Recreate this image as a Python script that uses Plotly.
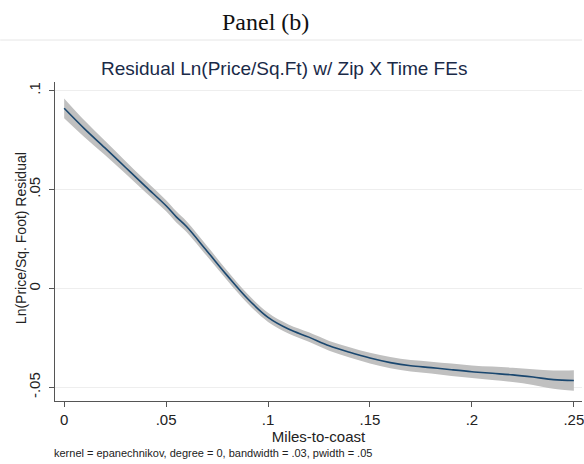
import plotly.graph_objects as go

miles = [0.0, 0.01, 0.02, 0.03, 0.04, 0.05, 0.055, 0.06, 0.07, 0.08, 0.09, 0.10, 0.11, 0.12,
         0.13, 0.14, 0.15, 0.16, 0.17, 0.18, 0.19, 0.20, 0.21, 0.22, 0.23, 0.24, 0.25]
resid = [0.0911, 0.0807, 0.0711, 0.0613, 0.0515, 0.0418, 0.0362, 0.0313, 0.0190, 0.0065,
         -0.0052, -0.0146, -0.0205, -0.0246, -0.0290, -0.0323, -0.0352, -0.0375, -0.0391,
         -0.0400, -0.0411, -0.0421, -0.0429, -0.0437, -0.0448, -0.0461, -0.0465]
ci_hi = [0.0961, 0.0849, 0.0747, 0.0645, 0.0545, 0.0446, 0.0390, 0.0340, 0.0216, 0.0090,
         -0.0028, -0.0123, -0.0182, -0.0222, -0.0265, -0.0297, -0.0325, -0.0347, -0.0362,
         -0.0370, -0.0380, -0.0389, -0.0395, -0.0401, -0.0408, -0.0415, -0.0413]
ci_lo = [0.0861, 0.0765, 0.0675, 0.0581, 0.0485, 0.0390, 0.0334, 0.0286, 0.0164, 0.0040,
         -0.0076, -0.0169, -0.0228, -0.0270, -0.0315, -0.0349, -0.0379, -0.0403, -0.0420,
         -0.0430, -0.0442, -0.0453, -0.0463, -0.0473, -0.0488, -0.0507, -0.0517]

x_ticks = [0, 0.05, 0.10, 0.15, 0.20, 0.25]
x_labels = ["0", ".05", ".1", ".15", ".2", ".25"]
y_ticks = [-0.05, 0, 0.05, 0.10]
y_labels = ["-.05", "0", ".05", ".1"]

fig = go.Figure()
fig.add_trace(go.Scatter(x=miles, y=ci_hi, mode="lines", line=dict(width=0, shape="spline"),
                         hoverinfo="skip", showlegend=False))
fig.add_trace(go.Scatter(x=miles, y=ci_lo, mode="lines", line=dict(width=0, shape="spline"),
                         fill="tonexty", fillcolor="#c0c0c0", hoverinfo="skip", showlegend=False))
fig.add_trace(go.Scatter(x=miles, y=resid, mode="lines",
                         line=dict(color="#1a476f", width=1.6, shape="spline"), showlegend=False))

axis_font = dict(family="Liberation Sans, Arial", size=15, color="#222222")
fig.update_layout(
    width=584, height=464,
    margin=dict(l=55, r=0, t=82, b=63),
    paper_bgcolor="white", plot_bgcolor="white",
    xaxis=dict(range=[-0.0045, 0.2540], tickvals=x_ticks, ticktext=x_labels,
               showgrid=False, zeroline=False, showline=True, linecolor="#555555", linewidth=1.3,
               ticks="outside", ticklen=5, tickcolor="#555555", tickfont=axis_font,
               ticklabeloverflow="allow",
               title=dict(text="Miles-to-coast", font=axis_font, standoff=2)),
    yaxis=dict(range=[-0.0569, 0.1044], tickvals=y_ticks, ticktext=y_labels, tickangle=-90,
               showgrid=True, gridcolor="#eeeeee", gridwidth=1, zeroline=False,
               showline=True, linecolor="#555555", linewidth=1.3,
               ticks="outside", ticklen=5, tickcolor="#555555", tickfont=axis_font,
               ticklabelstandoff=3),
    annotations=[
        dict(text="Panel (b)", xref="paper", yref="paper", x=(266 - 55) / 529, y=1 + (82 - 22) / 319,
             xanchor="center", yanchor="middle", showarrow=False,
             font=dict(family="Liberation Serif, DejaVu Serif", size=24, color="#111111")),
        dict(text="Residual Ln(Price/Sq.Ft) w/ Zip X Time FEs", xref="paper", yref="paper",
             x=(285 - 55) / 529, y=1 + (82 - 68) / 319, xanchor="center", yanchor="middle",
             showarrow=False, font=dict(family="Liberation Sans, Arial", size=19, color="#1a2a48")),
        dict(text="Ln(Price/Sq. Foot) Residual", xref="paper", yref="paper",
             x=(21 - 55) / 529, y=(401 - 238) / 319, xanchor="center", yanchor="middle",
             textangle=-90, showarrow=False,
             font=dict(family="Liberation Sans, Arial", size=14, color="#222222")),
        dict(text="kernel = epanechnikov, degree = 0, bandwidth = .03, pwidth = .05",
             xref="paper", yref="paper", x=(52 - 55) / 529, y=-(453 - 401) / 319,
             xanchor="left", yanchor="middle", showarrow=False,
             font=dict(family="Liberation Sans, Arial", size=11, color="#222222")),
    ],
    shapes=[dict(type="line", xref="paper", yref="paper", x0=-55 / 529, x1=1,
                 y0=1 + (82 - 40) / 319, y1=1 + (82 - 40) / 319,
                 line=dict(color="#e6e6e6", width=1))],
)

fig.write_html("out.html", config={"displayModeBar": False},
               post_script="document.body.style.margin='0';document.body.style.overflow='hidden';")
